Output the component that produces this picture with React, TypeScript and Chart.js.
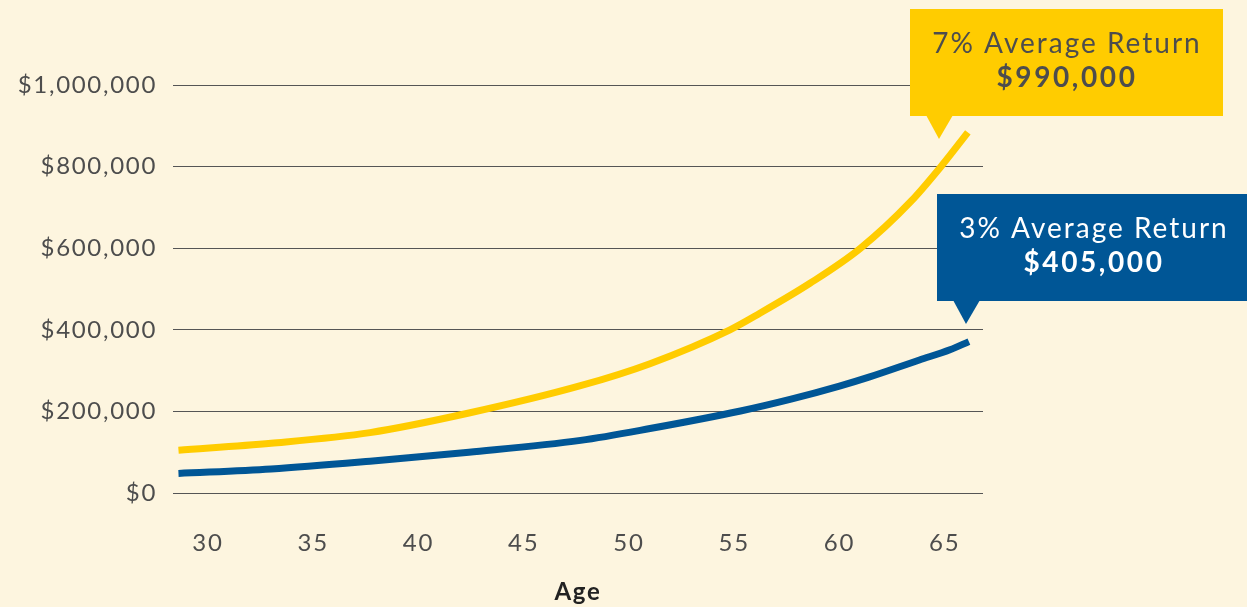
import React, { useEffect, useRef } from "react";
import { Chart, registerables } from "chart.js";

Chart.register(...registerables);

// Data
const AGES_7 = [28.6, 33, 37.7, 42.4, 47.7, 51, 54.8, 56.2, 58.6, 61, 63.4, 64.9, 66.1];
const RETURN_7 = [105000, 122000, 148000, 196000, 263000, 317000, 400000, 440000, 514000, 600000, 715000, 805000, 884000];
const AGES_3 = [28.6, 33, 37.7, 42.4, 47.7, 51, 55.3, 57.7, 60, 61.4, 63.8, 65.25, 66.15];
const RETURN_3 = [48000, 59000, 78000, 100000, 129000, 158000, 201000, 230000, 262000, 284000, 326000, 351000, 371000];
const X_TICKS = [30, 35, 40, 45, 50, 55, 60, 65];
const Y_TICKS = [0, 200000, 400000, 600000, 800000, 1000000];
const CALLOUT_7 = ["7% Average Return", "$990,000"];
const CALLOUT_3 = ["3% Average Return", "$405,000"];
const X_TITLE = "Age";

const BG = "#FDF5DF";
const YELLOW = "#FFCC00";
const BLUE = "#005696";
const TEXT = "#4D4D4D";
const FONT = "Lato, 'Open Sans', sans-serif";

const fmtMoney = (v: number) => "$" + Math.round(v).toLocaleString("en-US");

const spacingPlugin = {
  id: "spacing",
  beforeLayout(chart: any) {
    chart.ctx.letterSpacing = "1.7px";
  },
  beforeDraw(chart: any) {
    chart.ctx.letterSpacing = "1.7px";
  },
};

const calloutPlugin = {
  id: "callouts",
  afterDraw(chart: any) {
    const ctx: any = chart.ctx;
    ctx.save();
    const box = (
      x: number, y: number, w: number, h: number,
      tri: number[], fill: string, color: string, lines: string[], cx: number, y1: number, y2: number
    ) => {
      ctx.fillStyle = fill;
      ctx.fillRect(x, y, w, h);
      ctx.beginPath();
      ctx.moveTo(tri[0], tri[1]);
      ctx.lineTo(tri[2], tri[3]);
      ctx.lineTo(tri[4], tri[5]);
      ctx.closePath();
      ctx.fill();
      ctx.fillStyle = color;
      ctx.textAlign = "center";
      ctx.textBaseline = "middle";
      ctx.letterSpacing = "2px";
      ctx.font = `400 28px ${FONT}`;
      ctx.fillText(lines[0], cx + 1, y1);
      ctx.letterSpacing = "2.6px";
      ctx.font = `700 28px ${FONT}`;
      ctx.fillText(lines[1], cx + 1, y2);
    };
    box(910, 9, 313, 107, [926, 115, 953, 115, 939, 139], YELLOW, "#4D4D4D", CALLOUT_7, 1066, 44, 78);
    box(937, 194, 320, 107, [953, 300, 980, 300, 966, 324], BLUE, "#FFFFFF", CALLOUT_3, 1093, 229, 263);
    ctx.restore();
  },
};

export default function App() {
  const ref = useRef<HTMLCanvasElement | null>(null);

  useEffect(() => {
    document.body.style.margin = "0";
    document.body.style.background = BG;
    if (!ref.current) return;
    const chart = new Chart(ref.current, {
      type: "line",
      data: {
        datasets: [
          {
            label: "7% Average Return",
            data: AGES_7.map((a, i) => ({ x: a, y: RETURN_7[i] })),
            borderColor: YELLOW,
            borderWidth: 7,
            pointRadius: 0,
            cubicInterpolationMode: "monotone",
            fill: false,
          },
          {
            label: "3% Average Return",
            data: AGES_3.map((a, i) => ({ x: a, y: RETURN_3[i] })),
            borderColor: BLUE,
            borderWidth: 7,
            pointRadius: 0,
            cubicInterpolationMode: "monotone",
            fill: false,
          },
        ],
      },
      options: {
        animation: false,
        responsive: false,
        devicePixelRatio: 1,
        layout: { padding: { top: 85, right: 264, left: 0, bottom: 0 } },
        plugins: { legend: { display: false }, tooltip: { enabled: false } },
        scales: {
          x: {
            type: "linear",
            min: 28.34,
            max: 66.82,
            grid: { display: false },
            border: { display: false },
            afterBuildTicks: (scale: any) => {
              scale.ticks = X_TICKS.map((v) => ({ value: v }));
            },
            afterFit: (scale: any) => {
              scale.height = 114;
            },
            ticks: {
              padding: 28,
              color: TEXT,
              font: { family: FONT, size: 24, weight: 400 },
              callback: (v: any) => String(v),
            },
            title: {
              display: true,
              text: X_TITLE,
              color: "#222",
              font: { family: FONT, size: 24, weight: 700 },
              padding: { top: 0, bottom: 0 },
            },
          },
          y: {
            min: 0,
            max: 1000000,
            border: { display: false },
            grid: { color: "#555555", lineWidth: 1, drawTicks: false },
            afterBuildTicks: (scale: any) => {
              scale.ticks = Y_TICKS.map((v) => ({ value: v }));
            },
            afterFit: (scale: any) => {
              scale.width = 173;
            },
            ticks: {
              padding: 16,
              color: TEXT,
              font: { family: FONT, size: 24, weight: 400 },
              callback: (v: any) => fmtMoney(Number(v)),
            },
          },
        },
      },
      plugins: [spacingPlugin, calloutPlugin],
    } as any);
    return () => chart.destroy();
  }, []);

  return (
    <div style={{ width: 1247, height: 607, background: BG, overflow: "hidden" }}>
      <canvas ref={ref} width={1247} height={607} style={{ display: "block", width: 1247, height: 607 }} />
    </div>
  );
}
